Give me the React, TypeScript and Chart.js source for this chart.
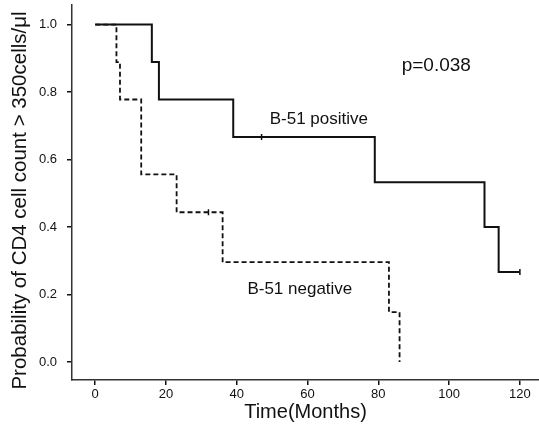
import { useEffect, useRef } from "react";
import { Chart, registerables } from "chart.js";

Chart.register(...registerables);

// Kaplan–Meier step data (months, survival probability)
const positiveMonths = [0, 16, 18, 39, 79, 110, 114, 120];
const positiveSurvival = [1, 0.889, 0.778, 0.667, 0.533, 0.4, 0.267, 0.267];
const negativeMonths = [0, 6, 7, 13, 23, 36, 83, 86];
const negativeSurvival = [1, 0.889, 0.778, 0.556, 0.444, 0.296, 0.148, 0];

// censored observations
const positiveCensorMonths = [47, 120];
const positiveCensorSurvival = [0.667, 0.267];
const negativeCensorMonths = [32];
const negativeCensorSurvival = [0.444];

const xTickValues = [0, 20, 40, 60, 80, 100, 120];
const yTickValues = [0, 0.2, 0.4, 0.6, 0.8, 1.0];

const seriesNames = ["B-51 positive", "B-51 negative"];
const pValueText = "p=0.038";
const xTitle = "Time(Months)";
const yTitle = "Probability of CD4 cell count > 350cells/\u03bcl";

const FONT = '"Liberation Sans", Arial, Helvetica, sans-serif';
const INK = "#111111";

const toPoints = (xs: number[], ys: number[]) => xs.map((x, i) => ({ x, y: ys[i] }));

const textPlugin = {
  id: "kmLabels",
  afterDatasetsDraw(chart: any) {
    const { ctx, scales } = chart;
    const xs = scales.x;
    const ys = scales.y;
    const items = [
      { text: seriesNames[0], x: 49.3, y: 0.705, size: 17 },
      { text: seriesNames[1], x: 43.0, y: 0.202, size: 17 },
      { text: pValueText, x: 86.6, y: 0.863, size: 19 },
    ];
    ctx.save();
    ctx.fillStyle = INK;
    ctx.textAlign = "left";
    ctx.textBaseline = "alphabetic";
    for (const it of items) {
      ctx.font = `${it.size}px ${FONT}`;
      ctx.fillText(it.text, xs.getPixelForValue(it.x), ys.getPixelForValue(it.y));
    }
    // y-axis title, centred a little below the middle of the axis as in the original
    ctx.font = `20.5px ${FONT}`;
    ctx.textAlign = "center";
    ctx.textBaseline = "middle";
    ctx.translate(20, (ys.top + ys.bottom) / 2 + 8);
    ctx.rotate(-Math.PI / 2);
    ctx.fillText(yTitle, 0, 0);
    ctx.restore();
  },
};

const zeroPadding = (scale: any) => {
  scale.paddingTop = 0;
  scale.paddingBottom = 0;
  scale.paddingLeft = 0;
  scale.paddingRight = 0;
};

export default function App() {
  const ref = useRef<HTMLCanvasElement | null>(null);

  useEffect(() => {
    if (!ref.current) return;
    const chart = new Chart(ref.current, {
      type: "line",
      data: {
        datasets: [
          {
            label: seriesNames[0],
            data: toPoints(positiveMonths, positiveSurvival),
            stepped: "before",
            borderColor: INK,
            borderWidth: 2,
            pointRadius: 0,
            fill: false,
          },
          {
            label: seriesNames[1],
            data: toPoints(negativeMonths, negativeSurvival),
            stepped: "before",
            borderColor: INK,
            borderWidth: 1.8,
            borderDash: [5, 3],
            pointRadius: 0,
            fill: false,
          },
          {
            label: "censored +",
            data: toPoints(positiveCensorMonths, positiveCensorSurvival),
            showLine: false,
            pointStyle: "line",
            rotation: 90,
            pointRadius: 3,
            pointBorderWidth: 1.5,
            borderColor: INK,
          },
          {
            label: "censored -",
            data: toPoints(negativeCensorMonths, negativeCensorSurvival),
            showLine: false,
            pointStyle: "line",
            rotation: 90,
            pointRadius: 3,
            pointBorderWidth: 1.5,
            borderColor: INK,
          },
        ],
      },
      options: {
        animation: false,
        responsive: false,
        maintainAspectRatio: false,
        devicePixelRatio: 1,
        layout: { autoPadding: false, padding: { top: 5, right: 0, left: 0, bottom: 0 } },
        plugins: {
          legend: { display: false },
          tooltip: { enabled: false },
        },
        scales: {
          x: {
            type: "linear",
            min: -6.56,
            max: 125.4,
            afterBuildTicks: (scale: any) => {
              scale.ticks = xTickValues.map((v) => ({ value: v }));
            },
            afterFit: (scale: any) => {
              scale.height = 54;
              zeroPadding(scale);
            },
            ticks: {
              color: INK,
              font: { family: FONT, size: 13 },
              padding: 2,
              maxRotation: 0,
              callback: (v: any) => String(v),
            },
            grid: {
              display: true,
              drawOnChartArea: false,
              drawTicks: true,
              tickLength: 5,
              color: INK,
              lineWidth: 1.5,
            },
            border: { display: true, color: "#333333", width: 1.5 },
            title: {
              display: true,
              text: xTitle,
              color: INK,
              font: { family: FONT, size: 20 },
              padding: { top: 4, bottom: 10 },
            },
          },
          y: {
            type: "linear",
            min: -0.053,
            max: 1.058,
            afterBuildTicks: (scale: any) => {
              scale.ticks = yTickValues.map((v) => ({ value: v }));
            },
            afterFit: (scale: any) => {
              scale.width = 72;
              zeroPadding(scale);
            },
            ticks: {
              color: INK,
              font: { family: FONT, size: 13 },
              padding: 10,
              callback: (v: any) => Number(v).toFixed(1),
            },
            grid: {
              display: true,
              drawOnChartArea: false,
              drawTicks: true,
              tickLength: 5,
              color: INK,
              lineWidth: 1.5,
            },
            border: { display: true, color: "#333333", width: 1.5 },
            title: { display: false },
          },
        },
      },
      plugins: [textPlugin],
    } as any);
    return () => chart.destroy();
  }, []);

  return (
    <div style={{ position: "absolute", left: 0, top: 0, width: 539, height: 434, background: "#fff" }}>
      <canvas ref={ref} width={539} height={434} style={{ width: 539, height: 434, display: "block" }} />
    </div>
  );
}
